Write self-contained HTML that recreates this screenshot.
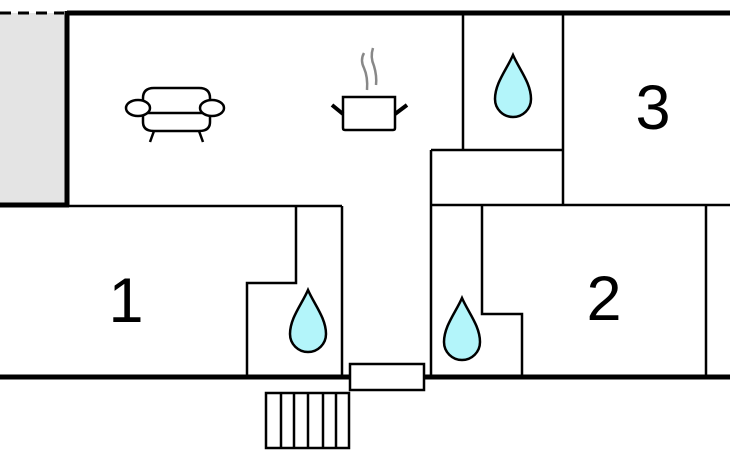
<!DOCTYPE html>
<html><head><style>html,body{margin:0;padding:0;background:#fff;}svg{display:block}</style></head>
<body>
<svg width="730" height="450" viewBox="0 0 730 450" xmlns="http://www.w3.org/2000/svg">
<rect x="0" y="13" width="67" height="192" fill="#e4e4e4"/>
<line x1="0" y1="13" x2="64" y2="13" stroke="#000" stroke-width="3" stroke-dasharray="11,7"/>
<g stroke="#000" fill="none" stroke-width="2.5">
<line x1="67" y1="13" x2="730" y2="13" stroke-width="5"/>
<line x1="67" y1="11" x2="67" y2="207" stroke-width="5"/>
<line x1="0" y1="205" x2="69" y2="205" stroke-width="5"/>
<line x1="67" y1="206" x2="342" y2="206"/>
<line x1="342" y1="206" x2="342" y2="377"/>
<polyline points="296,206 296,283 247,283 247,377"/>
<line x1="463" y1="13" x2="463" y2="150"/>
<line x1="563" y1="13" x2="563" y2="205"/>
<line x1="431" y1="150" x2="563" y2="150"/>
<line x1="431" y1="150" x2="431" y2="377"/>
<line x1="431" y1="205" x2="730" y2="205"/>
<polyline points="482,205 482,314 522,314 522,377"/>
<line x1="706" y1="205" x2="706" y2="377"/>
<line x1="0" y1="377" x2="350" y2="377" stroke-width="5"/>
<line x1="424" y1="377" x2="730" y2="377" stroke-width="5"/>
<rect x="350" y="364" width="74" height="26" fill="#fff"/>
<rect x="266" y="393" width="83" height="55" fill="#fff"/>
<line x1="281" y1="393" x2="281" y2="448"/>
<line x1="294" y1="393" x2="294" y2="448"/>
<line x1="308" y1="393" x2="308" y2="448"/>
<line x1="323" y1="393" x2="323" y2="448"/>
<line x1="336" y1="393" x2="336" y2="448"/>
</g>
<g fill="#b3f5fa" stroke="#000" stroke-width="2.5">
<path d="M308,290 C302,304 290,318 290,334 A18,18 0 0 0 326,334 C326,318 314,304 308,290 Z"/>
<path d="M462,298 C456,312 444,326 444,342 A18,18 0 0 0 480,342 C480,326 468,312 462,298 Z"/>
<path d="M513,55 C507,69 495,83 495,99 A18,18 0 0 0 531,99 C531,83 519,69 513,55 Z"/>
</g>
<!-- sofa -->
<g stroke="#000" stroke-width="2.5" fill="#fff">
<path d="M143,107 L143,98 Q143,88 154,88 L199,88 Q210,88 210,98 L210,107"/>
<path d="M143,113 L143,122 Q143,131 154,131 L199,131 Q210,131 210,122 L210,113"/>
<line x1="146" y1="113" x2="207" y2="113"/>
<ellipse cx="138" cy="108" rx="12" ry="8"/>
<ellipse cx="212" cy="108" rx="12" ry="8"/>
<line x1="154" y1="131" x2="150" y2="142"/>
<line x1="199" y1="131" x2="203" y2="142"/>
</g>
<!-- pot -->
<g stroke="#000" fill="#fff">
<path d="M343,97 L395,97 L395,128 Q395,130 393,130 L345,130 Q343,130 343,128 Z" stroke-width="2.5"/>
<line x1="332" y1="105" x2="343" y2="114" stroke-width="4"/>
<line x1="407" y1="105" x2="395" y2="114" stroke-width="4"/>
</g>
<g stroke="#888" stroke-width="2.5" fill="none">
<path d="M364,53 Q360,60 364,68 Q368,77 367,90"/>
<path d="M373,48 Q370,57 374,66 Q377,76 376,85"/>
</g>
<g font-family="Liberation Sans, sans-serif" font-size="63" text-anchor="middle" fill="#000">
<text x="126" y="322">1</text>
<text x="604" y="320">2</text>
<text x="653" y="129">3</text>
</g>
</svg>
</body></html>
